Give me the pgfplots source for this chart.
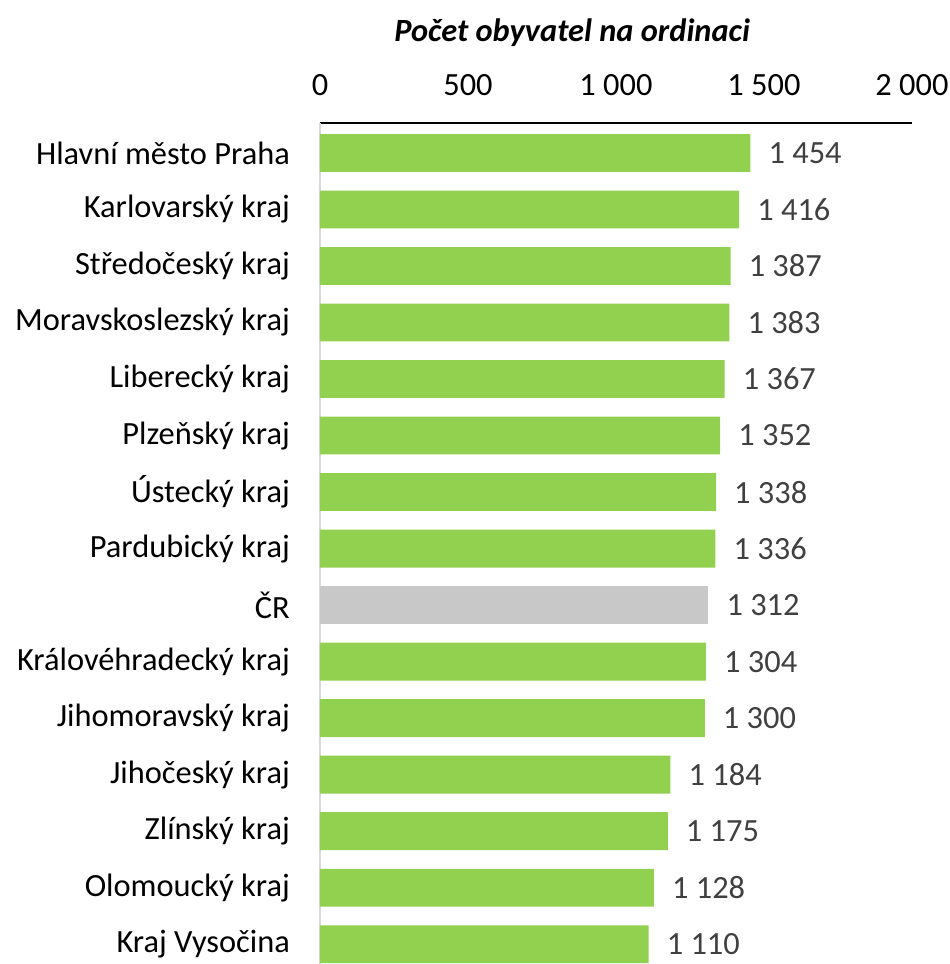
\documentclass[border=0pt]{standalone}
\usepackage{pgfplots}
\pgfplotsset{compat=1.18}
\usepackage{fontspec}
\setmainfont{Carlito}

\definecolor{zelena}{HTML}{92D050}
\definecolor{seda}{HTML}{C8C8C8}
\definecolor{popisek}{HTML}{404040}
\definecolor{osa}{HTML}{D9D9D9}

\begin{document}
\fontsize{16.2}{19.5}\selectfont
\begin{tikzpicture}
\begin{axis}[
    xbar,
    bar width=0.67,
    scale only axis,
    width=296pt, height=420.5pt,
    xmin=0, xmax=2000,
    ymin=-0.35, ymax=14.53,
    axis x line*=top,
    axis y line*=left,
    x axis line style={black, line width=1pt, -},
    y axis line style={osa, line width=1.2pt, -},
    xtick={0,500,1000,1500,2000},
    major tick length=0pt,
    ytick={0,...,14},
    yticklabels={Kraj Vysočina, Olomoucký kraj, Zlínský kraj, Jihočeský kraj,
        Jihomoravský kraj, Královéhradecký kraj, ČR, Pardubický kraj,
        Ústecký kraj, Plzeňský kraj, Liberecký kraj, Moravskoslezský kraj,
        Středočeský kraj, Karlovarský kraj, Hlavní město Praha},
    xticklabel style={yshift=8pt},
    yticklabel style={xshift=-9.5pt},
    /pgf/number format/assume math mode=true,
    /pgf/number format/1000 sep={\ },
    scaled x ticks=false,
    nodes near coords,
    nodes near coords style={anchor=west, color=popisek, xshift=3.5pt},
    title={\bfseries\itshape Počet obyvatel na ordinaci},
    title style={at={(0.426,1)}, anchor=base, yshift=34.5pt},
]
% kraje
\addplot[fill=zelena, draw=none, bar shift=0pt] coordinates {
    (1110,0) (1128,1) (1175,2) (1184,3) (1300,4) (1304,5)
    (1336,7) (1338,8) (1352,9) (1367,10) (1383,11) (1387,12)
    (1416,13) (1454,14)
};
% cela republika
\addplot[fill=seda, draw=none, bar shift=0pt] coordinates {(1312,6)};
\end{axis}
\pgfresetboundingbox
\useasboundingbox ([xshift=-160pt]current axis.south west) rectangle ([xshift=314.5pt,yshift=61.5pt]current axis.north west);
\end{tikzpicture}
\end{document}
